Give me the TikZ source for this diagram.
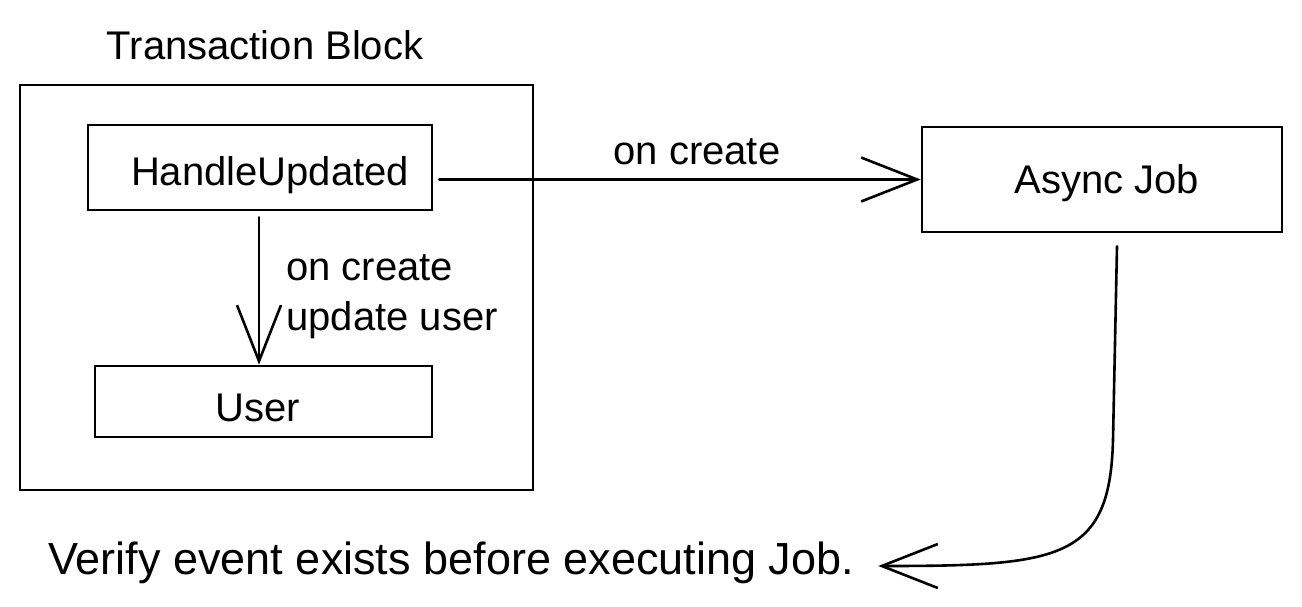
\documentclass[tikz,border=0pt]{standalone}
\usepackage{fontspec}
\setmainfont{Liberation Sans}
\usetikzlibrary{arrows.meta,calc}
\begin{document}
\begin{tikzpicture}[x=0.5pt,y=-0.5pt,
  box/.style={draw=black, line width=1.3pt, inner sep=0pt, fill=none},
  lbl/.style={font=\fontsize{20}{25}\selectfont, inner sep=0pt, text=black},
  arr/.style={draw=black, line width=1.3pt, line cap=round,
    -{Straight Barb[length=28pt,width=22pt,line width=1.3pt]}}]
\useasboundingbox (0,0) rectangle (1302,606);
\fill[white] (0,0) rectangle (1302,606);
% boxes
\node[box, minimum width=256.5pt, minimum height=202.5pt] (block) at (276.5,287.5) {};
\node[box, minimum width=172pt, minimum height=42.5pt] (handle) at (260,167.5) {};
\node[lbl] (handletxt) at (270,175) {HandleUpdated};
\node[box, minimum width=168.5pt, minimum height=35.5pt] (user) at (263.5,401.5) {};
\node[lbl] (usertxt) at (258,408) {User};
\node[box, minimum width=180pt, minimum height=52.5pt] (async) at (1102,179.5) {};
\node[lbl] (asynctxt) at (1107,183) {Async Job};
% texts
\node[lbl] (title) at (265,45) {Transaction Block};
\node[lbl, anchor=base west, align=left] (lbl1) at (286,330) {on create\\update user};
\node[lbl] (lbl2) at (697,152) {on create};
\node[lbl, font=\fontsize{22.5}{27}\selectfont, anchor=west] (verify) at (48,563) {Verify event exists before executing Job.};
% connectors
\coordinate (hs) at ([yshift=-3pt]handle.south -| 259,0);
\draw[arr] (hs) -- (hs |- user.north);
\draw[arr] ([xshift=3pt]handle.east |- async.west) -- (async.west);
\coordinate (as) at ([xshift=7.5pt,yshift=-6.5pt]async.south);
\coordinate (ve) at ([xshift=12pt]verify.east);
\draw[arr] (as) -- (1113,440) .. controls (1110,560) and (1060,566) .. (ve |- 0,566);
\end{tikzpicture}
\end{document}
